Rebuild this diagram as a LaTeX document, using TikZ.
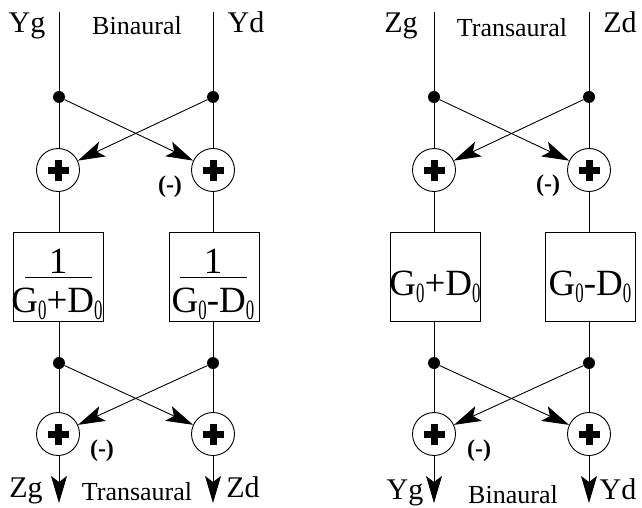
\documentclass[tikz,border=0pt]{standalone}
\usepackage{fontspec}
\usepackage{graphicx}
\setmainfont{Liberation Serif}
\usetikzlibrary{arrows.meta}
\newcommand\zsub{\raisebox{-7pt}{\scalebox{0.6}[1]{\fontsize{28}{28}\selectfont 0}}}
\newcommand\gplusd{G\zsub+D\zsub}
\newcommand\gminusd{G\zsub-D\zsub}
\begin{document}
\begin{tikzpicture}[x=1pt,y=-1pt,
  wire/.style={line width=0.9pt},
  dotnode/.style={circle,fill=black,inner sep=0pt,minimum size=12pt},
  sumnode/.style={circle,draw,line width=0.9pt,inner sep=0pt,minimum size=43pt,
    path picture={\draw[line width=7pt]
      ([xshift=-10.5pt]path picture bounding box.center) -- ([xshift=10.5pt]path picture bounding box.center)
      ([yshift=-10.5pt]path picture bounding box.center) -- ([yshift=10.5pt]path picture bounding box.center);}},
  boxnode/.style={draw,line width=0.9pt,inner sep=0pt,minimum width=90pt,minimum height=89pt},
  lab/.style={font=\fontsize{30}{30}\selectfont,inner sep=0pt,anchor=base},
  tlab/.style={font=\fontsize{26}{26}\selectfont,inner sep=0pt,anchor=base},
  boxtxt/.style={font=\fontsize{37}{37}\selectfont,inner sep=0pt,anchor=base},
  minus/.style={font=\fontsize{24}{24}\selectfont\bfseries,inner sep=0pt},
  arr/.style={wire,-{Stealth[length=27pt,width=16pt,inset=6pt]}},
  bar/.style={line width=0.9pt}
]
\useasboundingbox (0,0) rectangle (642,508);

% ---------- left diagram ----------
\coordinate (tA) at (59,12);
\coordinate (tB) at (213,12);
\node[dotnode] (dA1) at (59,97) {};
\node[dotnode] (dB1) at (213,97) {};
\node[sumnode] (sA1) at (58,170) {};
\node[sumnode] (sB1) at (213,170) {};
\node[boxnode] (bA) at (58,277) {};
\node[boxnode] (bB) at (214,277) {};
\node[dotnode] (dA2) at (59,363) {};
\node[dotnode] (dB2) at (213,363) {};
\node[sumnode] (sA2) at (58,434) {};
\node[sumnode] (sB2) at (213,434) {};
\coordinate (oA) at (59,503);
\coordinate (oB) at (213,503);

\draw[wire] (tA) -- (dA1) -- (dA1 |- sA1.north);
\draw[wire] (tB) -- (dB1) -- (sB1);
\draw[wire] (dA1 |- sA1.south) -- (dA1 |- bA.north);
\draw[wire] (sB1) -- (sB1 |- bB.north);
\draw[wire] (dA1 |- bA.south) -- (dA2) -- (dA2 |- sA2.north);
\draw[wire] (sB1 |- bB.south) -- (dB2) -- (sB2);
\draw[arr] (dA1) -- (sB1);
\draw[arr] (dB1) -- (sA1);
\draw[arr] (dA2) -- (sB2);
\draw[arr] (dB2) -- (sA2);
\draw[arr] (dA2 |- sA2.south) -- (oA);
\draw[arr] (sB2) -- (oB);

\node[boxtxt] (nA) at (58,273) {1};
\node[boxtxt] (nB) at (213,273) {1};
\coordinate (barA1) at (25,277); \coordinate (barA2) at (92,277);
\coordinate (barB1) at (180,277); \coordinate (barB2) at (247,277);
\draw[bar] (barA1) -- (barA2);
\draw[bar] (barB1) -- (barB2);
\node[boxtxt] (fA) at (57,312) {\gplusd};
\node[boxtxt] (fB) at (213,312) {\gminusd};

\node[lab] (l1) at (27,33) {Yg};
\node[tlab] (l2) at (137,35) {Binaural};
\node[lab] (l3) at (246,33) {Yd};
\node[lab] (l4) at (26,497) {Zg};
\node[tlab] (l5) at (137,500) {Transaural};
\node[lab] (l6) at (243,497) {Zd};
\node[minus] (m1) at (170,187) {(-)};
\node[minus] (m2) at (102,451) {(-)};

% ---------- right diagram ----------
\coordinate (tC) at (434,12);
\coordinate (tD) at (589,12);
\node[dotnode] (dC1) at (434,97) {};
\node[dotnode] (dD1) at (589,97) {};
\node[sumnode] (sC1) at (434,170) {};
\node[sumnode] (sD1) at (589,170) {};
\node[boxnode] (bC) at (435,277) {};
\node[boxnode] (bD) at (590,277) {};
\node[dotnode] (dC2) at (434,363) {};
\node[dotnode] (dD2) at (589,363) {};
\node[sumnode] (sC2) at (434,434) {};
\node[sumnode] (sD2) at (589,434) {};
\coordinate (oC) at (434,503);
\coordinate (oD) at (589,503);

\draw[wire] (tC) -- (dC1) -- (sC1);
\draw[wire] (tD) -- (dD1) -- (sD1);
\draw[wire] (sC1) -- (sC1 |- bC.north);
\draw[wire] (sD1) -- (sD1 |- bD.north);
\draw[wire] (sC1 |- bC.south) -- (dC2) -- (sC2);
\draw[wire] (sD1 |- bD.south) -- (dD2) -- (sD2);
\draw[arr] (dC1) -- (sD1);
\draw[arr] (dD1) -- (sC1);
\draw[arr] (dC2) -- (sD2);
\draw[arr] (dD2) -- (sC2);
\draw[arr] (sC2) -- (oC);
\draw[arr] (sD2) -- (oD);

\node[boxtxt] (fC) at (435,295) {\gplusd};
\node[boxtxt] (fD) at (590,295) {\gminusd};

\node[lab] (r1) at (401,33) {Zg};
\node[tlab] (r2) at (512,37) {Transaural};
\node[lab] (r3) at (620,33) {Zd};
\node[lab] (r4) at (405,499) {Yg};
\node[tlab] (r5) at (513,503) {Binaural};
\node[lab] (r6) at (618,499) {Yd};
\node[minus] (m3) at (548,186) {(-)};
\node[minus] (m4) at (479,451) {(-)};
\end{tikzpicture}
\end{document}
